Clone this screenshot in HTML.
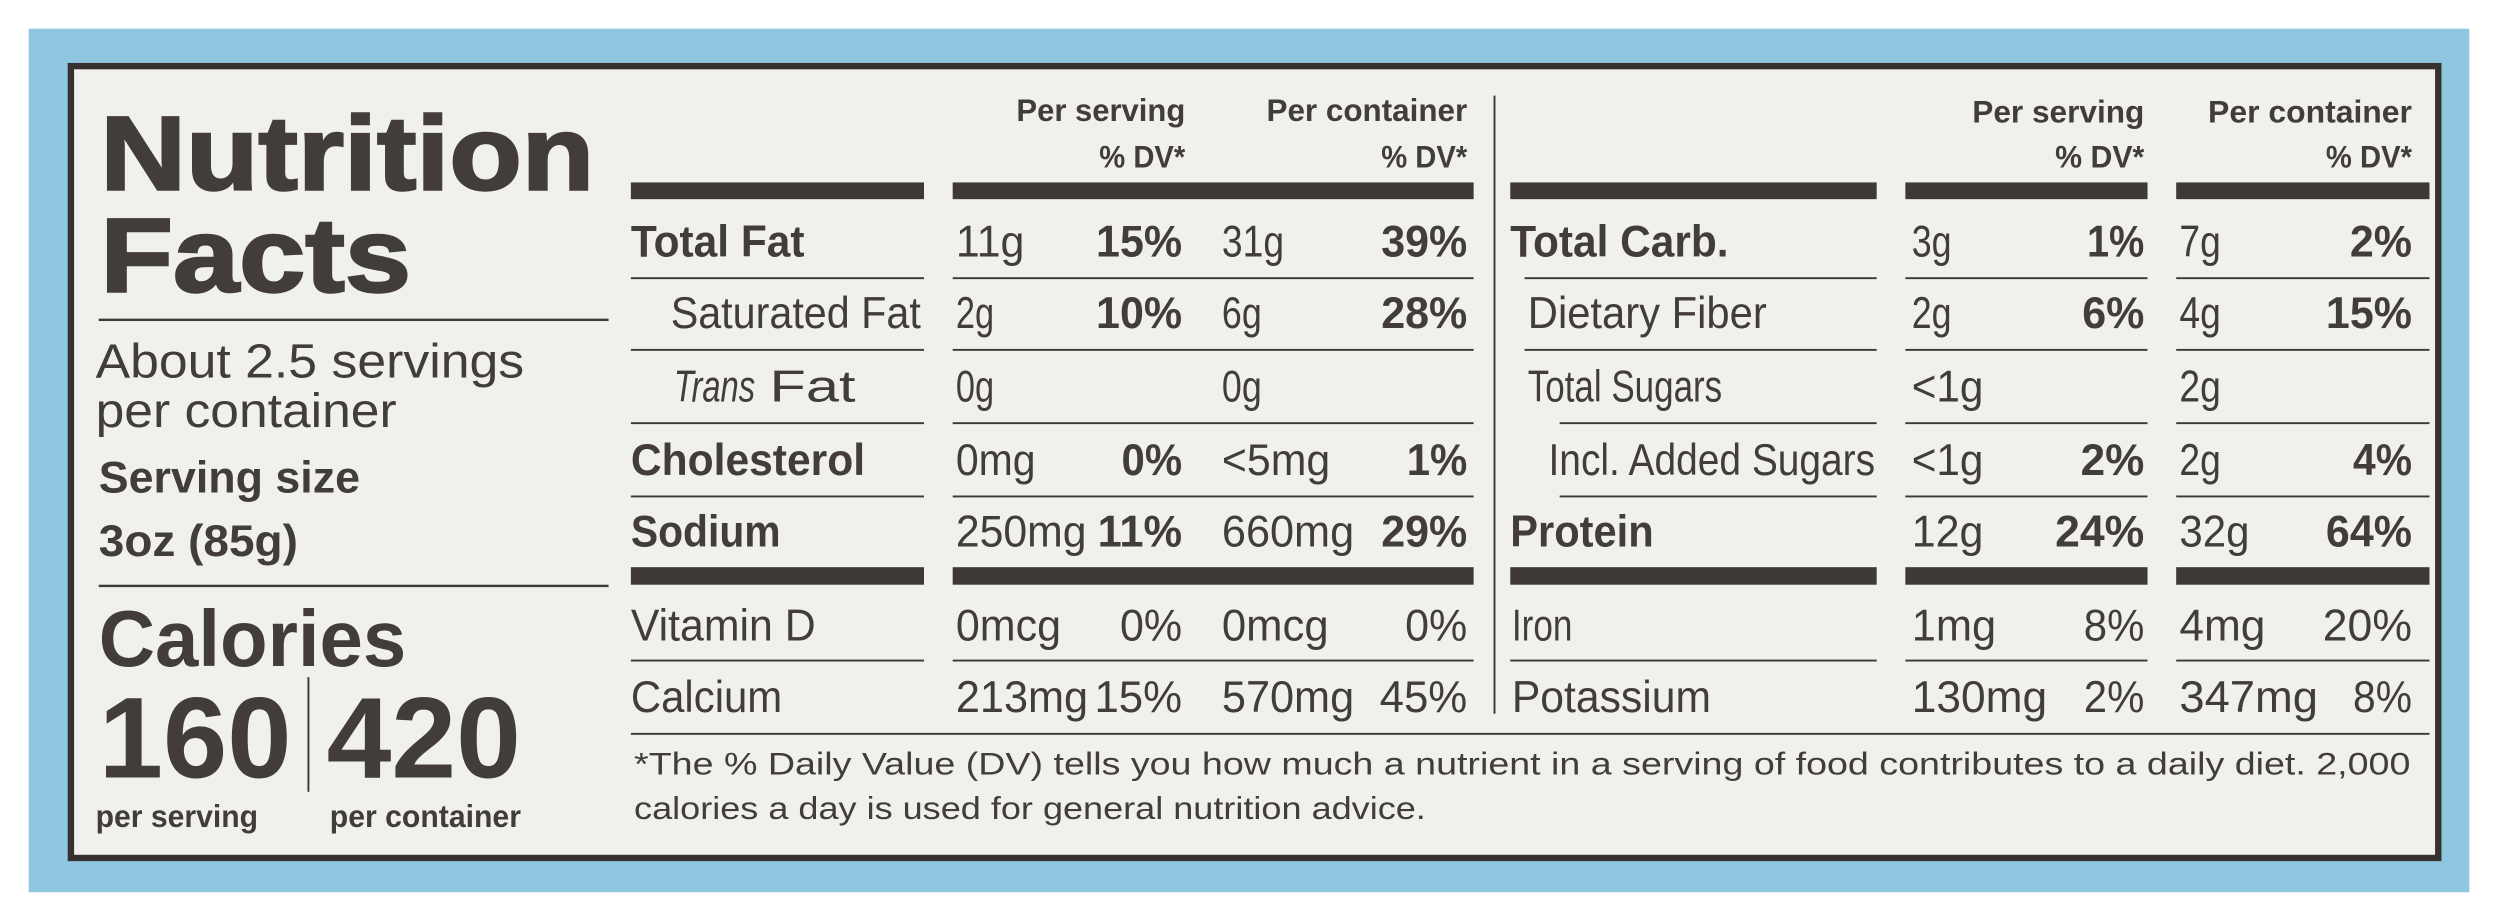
<!DOCTYPE html>
<html><head><meta charset="utf-8"><style>
html,body{margin:0;padding:0;background:#fff;}
svg{display:block;}
text{fill:#433d3a;font-family:"Liberation Sans Narrow","Liberation Sans",sans-serif;}
</style></head><body>
<svg id="s" width="2498" height="922" viewBox="0 0 1568 578.7" preserveAspectRatio="none" xmlns="http://www.w3.org/2000/svg">
<rect x="0" y="0" width="1568" height="579" fill="#ffffff"/>
<rect x="18" y="18" width="1532" height="542" fill="#8fc6e0"/>
<rect x="44.5" y="41.5" width="1486" height="497" fill="#f0f0ec" stroke="#36302e" stroke-width="4"/>
<g id="g"></g>
</svg>
<script>
var g=document.getElementById('g');
var NS='http://www.w3.org/2000/svg';
function T(name,x1,x2,y,size,w,txt,italic){
  var e=document.createElementNS(NS,'text');
  
  
  e.setAttribute('x',x1);e.setAttribute('y',y);
  e.setAttribute('font-size',size);
  e.setAttribute('font-weight',w?'bold':'normal');
  if(italic)e.setAttribute('font-style','italic');
  e.setAttribute('textLength',x2-x1);
  e.setAttribute('lengthAdjust','spacingAndGlyphs');
  e.textContent=txt;g.appendChild(e);return e;
}
function R(name,x,y,w,h){
  var e=document.createElementNS(NS,'rect');
  
  
  e.setAttribute('x',x);e.setAttribute('y',y);e.setAttribute('width',w);e.setAttribute('height',h);
  e.setAttribute('fill','#3f3936');g.appendChild(e);
}
var t1=T('title-nutrition',63,373,119,66,1,'Nutrition');
t1.setAttribute('stroke','#433d3a');t1.setAttribute('stroke-width','1.5');
var t2=T('title-facts',63,258,183,66,1,'Facts');
t2.setAttribute('stroke','#433d3a');t2.setAttribute('stroke-width','1.5');
R('divider-line',62,200,320,1.5);
T('servings-per-container',60,329,237,30,0,'About 2.5 servings');
T('servings-per-container-2',60,249,268,30,0,'per container');
T('serving-size-label',62,226,309,28,1,'Serving size');
T('serving-size-value',62,187,349,28,1,'3oz (85g)');
R('divider-line',62,367,320,1.5);
T('calories-label',62,255,418,50,1,'Calories');
T('calories-per-serving',62,183,488,72,1,'160');
T('calories-per-container',205,327,488,72,1,'420');
R('calories-divider',193,425,1.2,72);
T('per-serving-caption',60,162,519,20,1,'per serving');
T('per-container-caption',207,327,519,20,1,'per container');
T('header-per-serving',638,744,76,20,1,'Per serving');
T('header-dv',690,744,105,20,1,'% DV*');
T('header-per-container',795,921,76,20,1,'Per container');
T('header-dv',867,921,105,20,1,'% DV*');
T('header-per-serving',1238,1346,77,20,1,'Per serving');
T('header-dv',1290,1346,105,20,1,'% DV*');
T('header-per-container',1386,1514,77,20,1,'Per container');
T('header-dv',1460,1514,105,20,1,'% DV*');
R('vertical-divider',937.5,60,1.2,388);
[[396,184],[598,327],[948,230],[1196,152],[1366,159]].forEach(function(b){
  R('thick-bar',b[0],114.5,b[1],10.5);
  R('thick-bar',b[0],356,b[1],11);
});
[174,219,265,311,414].forEach(function(y){
  R('row-line',396,y,184,1.2);R('row-line',598,y,327,1.2);
  var s=(y==265||y==311)?979:(y==414?948:957);
  R('row-line',s,y,1178-s,1.2);
  R('row-line',1196,y,152,1.2);R('row-line',1366,y,159,1.2);
});
R('footnote-line',396,460,1129,1.2);
var rows=[
['Total Fat',396,505,1,'11g',643,'15%',688,'31g',806,'39%',867,1,161],
['Saturated Fat',421,578,0,'2g',624,'10%',688,'6g',792,'28%',867,1,206],
['Trans Fat',423,537,0,'0g',624,'',0,'0g',792,'',0,1,252],
['Cholesterol',396,543,1,'0mg',650,'0%',704,'<5mg',835,'1%',883,1,298],
['Sodium',396,490,1,'250mg',682,'11%',689,'660mg',850,'29%',867,1,343],
['Vitamin D',396,512,0,'0mcg',666,'0%',703,'0mcg',834,'0%',882,0,402],
['Calcium',396,491,0,'213mg',683,'15%',687,'570mg',850,'45%',866,0,447],
['Total Carb.',948,1085,1,'3g',1225,'1%',1310,'7g',1394,'2%',1475,1,161],
['Dietary Fiber',959,1109,0,'2g',1225,'6%',1307,'4g',1394,'15%',1460,1,206],
['Total Sugars',959,1081,0,'<1g',1245,'',0,'2g',1394,'',0,1,252],
['Incl. Added Sugars',972,1177,0,'<1g',1245,'2%',1306,'2g',1394,'4%',1477,1,298],
['Protein',948,1038,1,'12g',1245,'24%',1290,'32g',1412,'64%',1460,1,343],
['Iron',949,987,0,'1mg',1253,'8%',1308,'4mg',1422,'20%',1458,0,402],
['Potassium',949,1074,0,'130mg',1285,'2%',1308,'347mg',1455,'8%',1477,0,447]
];
rows.forEach(function(r){
  var left=r[1]<900, y=r[13];
  var c1=left?600:1200, p1e=left?742:1346, c2=left?767:1368, p2e=left?921:1514;
  var slug=r[0].toLowerCase().replace(/[^a-z]+/g,'-');
  if(r[0]=='Trans Fat'){
    T('row-label-'+slug,423,474,y,28,0,'Trans',1);
    T('row-label-'+slug,483,537,y,28,0,'Fat');
  } else T('row-label-'+slug,r[1],r[2],y,28,r[3],r[0]);
  T('amount-per-serving',c1,r[5],y,28,0,r[4]);
  if(r[6])T('dv-per-serving',r[7],p1e,y,28,r[12],r[6]);
  T('amount-per-container',c2,r[9],y,28,0,r[8]);
  if(r[10])T('dv-per-container',r[11],p2e,y,28,r[12],r[10]);
});
T('footnote-line-1',398,1513,486,20,0,'*The % Daily Value (DV) tells you how much a nutrient in a serving of food contributes to a daily diet. 2,000');
T('footnote-line-2',398,895,514,20,0,'calories a day is used for general nutrition advice.');
</script>
</body></html>
